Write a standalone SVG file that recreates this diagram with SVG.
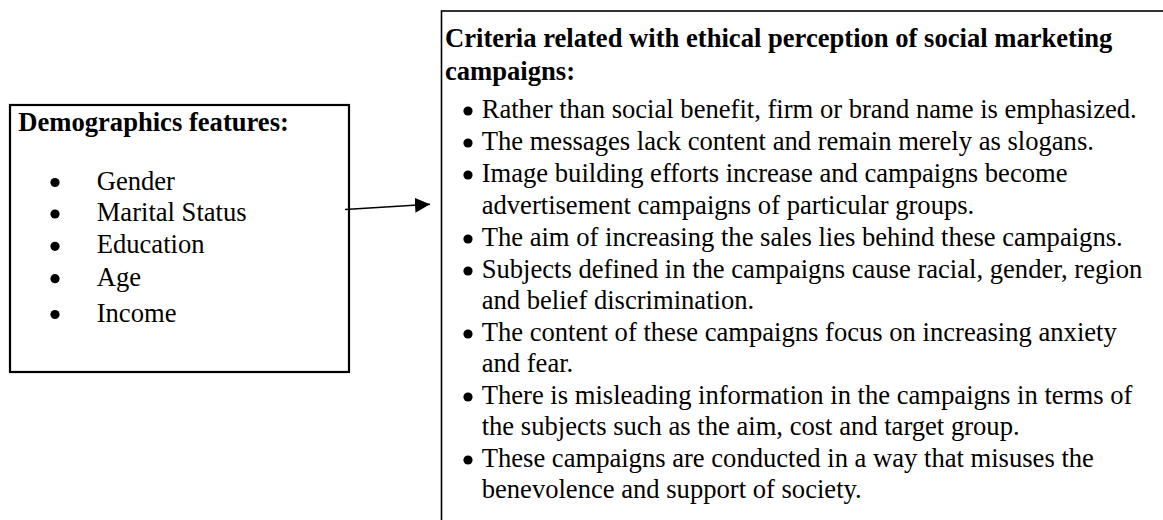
<svg xmlns="http://www.w3.org/2000/svg" width="1163" height="520" viewBox="0 0 1163 520">
  <style>
    .t { font-family: "Liberation Serif", "Times New Roman", serif; font-size: 26.6px; fill: #000; }
    .b { font-weight: bold; }
    .box { fill: #fff; stroke: #000; }
  </style>
  <defs>
    <marker id="arrow" markerUnits="userSpaceOnUse" markerWidth="16" markerHeight="16" refX="15" refY="7.5" orient="auto">
      <path d="M0,0 L15,7.5 L0,15 z" fill="#000"/>
    </marker>
    <circle id="dot" r="4.6" fill="#000"/>
  </defs>
  <rect width="1163" height="520" fill="#fff"/>

  <g id="node-demographics">
    <rect class="box" x="10" y="105" width="339" height="267" stroke-width="2.2"/>
    <text class="t b" x="18.3" y="131">Demographics features:</text>
    <g>
      <use href="#dot" x="55" y="182.5"/>
      <use href="#dot" x="55" y="214"/>
      <use href="#dot" x="55" y="246.3"/>
      <use href="#dot" x="55" y="278.7"/>
      <use href="#dot" x="55" y="314.5"/>
    </g>
    <g class="t">
      <text x="96.7" y="189.5">Gender</text>
      <text x="96.7" y="221">Marital Status</text>
      <text x="96.7" y="253.3">Education</text>
      <text x="96.7" y="285.7">Age</text>
      <text x="96.7" y="321.5">Income</text>
    </g>
  </g>

  <g id="node-criteria">
    <rect class="box" x="441.5" y="11" width="800" height="600" stroke-width="1.6"/>
    <text class="t b" x="445" y="46.5">Criteria related with ethical perception of social marketing</text>
    <text class="t b" x="445" y="80">campaigns:</text>
    <g>
      <use href="#dot" x="468" y="111"/>
      <use href="#dot" x="468" y="143"/>
      <use href="#dot" x="468" y="175"/>
      <use href="#dot" x="468" y="239"/>
      <use href="#dot" x="468" y="271"/>
      <use href="#dot" x="468" y="334"/>
      <use href="#dot" x="468" y="397"/>
      <use href="#dot" x="468" y="460"/>
    </g>
    <g class="t">
      <text x="481.7" y="118">Rather than social benefit, firm or brand name is emphasized.</text>
      <text x="481.7" y="150">The messages lack content and remain merely as slogans.</text>
      <text x="481.7" y="182">Image building efforts increase and campaigns become</text>
      <text x="481.7" y="214">advertisement campaigns of particular groups.</text>
      <text x="481.7" y="246">The aim of increasing the sales lies behind these campaigns.</text>
      <text x="481.7" y="278">Subjects defined in the campaigns cause racial, gender, region</text>
      <text x="481.7" y="309">and belief discrimination.</text>
      <text x="481.7" y="341">The content of these campaigns focus on increasing anxiety</text>
      <text x="481.7" y="372">and fear.</text>
      <text x="481.7" y="404">There is misleading information in the campaigns in terms of</text>
      <text x="481.7" y="435">the subjects such as the aim, cost and target group.</text>
      <text x="481.7" y="467">These campaigns are conducted in a way that misuses the</text>
      <text x="481.7" y="498">benevolence and support of society.</text>
    </g>
  </g>

  <g id="connectors">
    <line x1="345" y1="209.5" x2="430" y2="204.3" stroke="#000" stroke-width="1.6" marker-end="url(#arrow)"/>
  </g>
</svg>
